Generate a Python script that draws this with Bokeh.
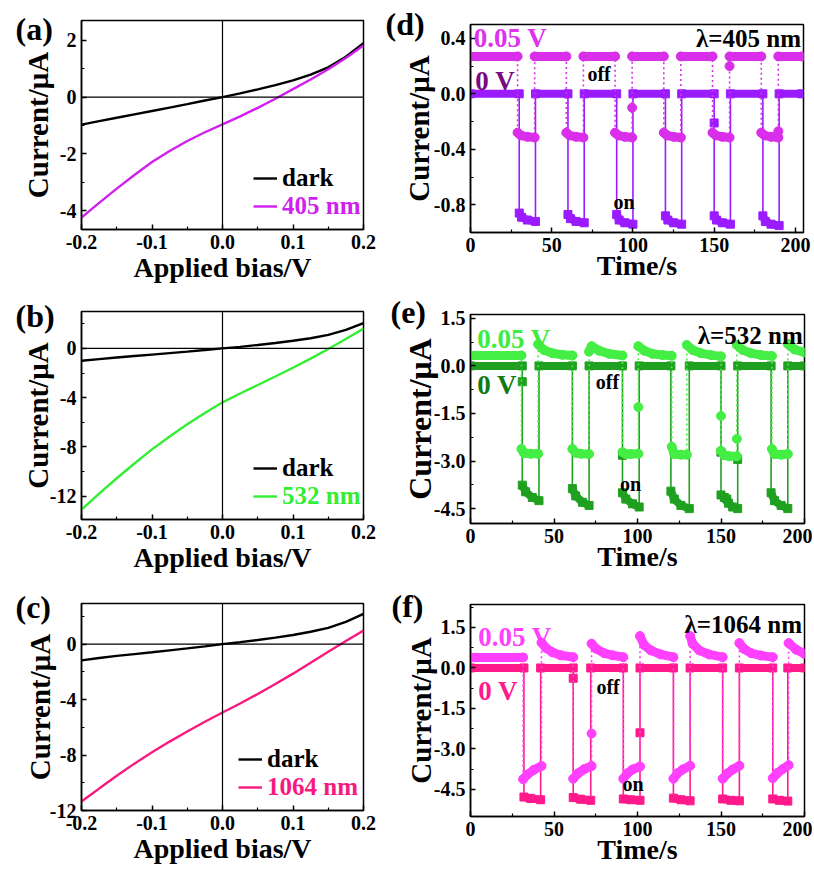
from bokeh.plotting import figure
from bokeh.layouts import row, column
from bokeh.models import Range1d, FixedTicker, Span, Label, Legend, LegendItem, Title
from bokeh.embed import file_html
from bokeh.resources import INLINE

FONT = "Liberation Serif"

# ---------------- I-V data ----------------
bias = [-0.2, -0.175, -0.15, -0.125, -0.1, -0.075, -0.05, -0.025, 0.0,
        0.025, 0.05, 0.075, 0.1, 0.125, 0.15, 0.175, 0.2]
dark_a = [-0.97, -0.85, -0.73, -0.61, -0.49, -0.37, -0.25, -0.12, 0.0,
          0.13, 0.27, 0.42, 0.59, 0.79, 1.05, 1.42, 1.9]
nm405 = [-4.25, -3.73, -3.23, -2.75, -2.29, -1.9, -1.55, -1.24, -0.96,
         -0.68, -0.38, -0.06, 0.28, 0.62, 0.98, 1.38, 1.82]
dark_b = [-1.0, -0.87, -0.74, -0.62, -0.5, -0.38, -0.26, -0.13, 0.0,
          0.13, 0.28, 0.44, 0.62, 0.83, 1.1, 1.5, 2.05]
nm532 = [-13.1, -11.8, -10.55, -9.35, -8.2, -7.15, -6.17, -5.25, -4.38,
         -3.66, -2.97, -2.28, -1.57, -0.83, -0.05, 0.77, 1.61]
dark_c = [-1.17, -1.0, -0.85, -0.72, -0.59, -0.45, -0.31, -0.16, 0.0,
          0.14, 0.3, 0.47, 0.66, 0.89, 1.17, 1.6, 2.18]
nm1064 = [-11.35, -10.42, -9.5, -8.62, -7.8, -7.03, -6.3, -5.6, -4.93,
          -4.28, -3.6, -2.88, -2.13, -1.35, -0.55, 0.22, 0.98]

# ---------------- time-response data ----------------
# (d) 405 nm
d0_t = [0, 30, 30, 31.5, 35, 40, 40, 60, 60, 61.5, 65, 70, 70, 90, 90, 91.5, 95, 100,
        100, 120, 120, 121.5, 125, 130, 130, 150, 150, 150, 151.5, 155, 160, 160, 180,
        180, 181.5, 185, 190, 190, 204]
d0_i = [0, 0, -0.86, -0.89, -0.91, -0.92, 0, 0, -0.87, -0.9, -0.92, -0.93, 0, 0, -0.87,
        -0.91, -0.93, -0.94, 0, 0, -0.88, -0.91, -0.93, -0.94, 0, 0, -0.21, -0.88, -0.91,
        -0.93, -0.94, 0, 0, -0.88, -0.92, -0.94, -0.95, 0, 0]
d5_t = [0, 29, 29, 31, 35, 39.5, 39.5, 59, 59, 61, 65, 69.5, 69.5, 89, 89, 91, 95, 99.5,
        99.5, 99.5, 119, 119, 121, 125, 129.5, 129.5, 149, 149, 151, 155, 159.5, 159.5,
        159.5, 179, 179, 181, 185, 189.5, 189.5, 189.5, 204]
d5_i = [0.27, 0.27, -0.28, -0.3, -0.31, -0.315, 0.27, 0.27, -0.28, -0.3, -0.31, -0.315,
        0.27, 0.27, -0.28, -0.3, -0.31, -0.315, -0.1, 0.27, 0.27, -0.28, -0.3, -0.31,
        -0.315, 0.27, 0.27, -0.28, -0.3, -0.31, -0.315, 0.2, 0.27, 0.27, -0.28, -0.3,
        -0.31, -0.315, -0.27, 0.27, 0.27]
# (e) 532 nm
e0_t = [0, 31, 31, 31, 33, 37, 41, 41, 61, 61, 63, 67, 71, 71, 91, 91, 91, 93, 97, 101,
        101, 120, 120, 122, 126, 131, 131, 150, 150, 150, 152, 153.5, 154.5, 157, 160, 160,
        160, 180, 180, 182, 186, 190, 190, 200]
e0_i = [0, 0, -0.5, -3.76, -3.97, -4.15, -4.25, 0, 0, -3.87, -4.1, -4.3, -4.4, 0, 0,
        -2.82, -4.0, -4.2, -4.35, -4.45, 0, 0, -3.95, -4.2, -4.4, -4.5, 0, 0, -2.72, -4.07,
        -4.15, -4.2, -4.33, -4.45, -4.5, -2.95, 0, 0, -4.0, -4.25, -4.4, -4.5, 0, 0]
e5_t = [0, 30.5, 30.5, 32, 36, 40.5, 40.5, 44, 49, 55, 61, 61, 63, 66, 71, 71, 72.5, 77,
        83, 91, 91, 93, 96, 100.5, 100.5, 100.5, 104, 109, 115, 120.5, 120.5, 122, 126,
        129.5, 129.5, 133, 138, 144, 150, 150, 150, 152, 155, 159.5, 159.5, 159.5, 163,
        168, 174, 180.5, 180.5, 182, 186, 190, 190, 194, 200]
e5_i = [0.33, 0.33, -2.62, -2.75, -2.77, -2.77, 0.68, 0.5, 0.4, 0.35, 0.33, -2.62, -2.74,
        -2.77, -2.78, 0.45, 0.62, 0.48, 0.38, 0.33, -2.72, -2.78, -2.78, -2.77, -1.3,
        0.62, 0.48, 0.38, 0.34, 0.32, -2.55, -2.78, -2.8, -2.8, 0.66, 0.5, 0.4, 0.34,
        0.3, -1.58, -2.68, -2.82, -2.85, -2.85, -2.3, 0.66, 0.5, 0.4, 0.34, 0.31, -2.62,
        -2.78, -2.8, -2.78, 0.69, 0.52, 0.42]
# (f) 1064 nm
f0_t = [0, 32, 32, 36, 42, 42, 61.5, 61.5, 61.5, 66, 72, 72, 91.5, 91.5, 96, 101.5,
        101.5, 101.5, 121.5, 121.5, 126, 131.5, 131.5, 151, 151, 156, 161, 161, 181, 181,
        185, 190, 190, 200]
f0_i = [0, 0, -4.78, -4.83, -4.88, 0, 0, -0.38, -4.8, -4.86, -4.9, 0, 0, -4.85, -4.88,
        -4.9, -2.4, 0, 0, -4.82, -4.88, -4.92, 0, 0, -4.85, -4.9, -4.92, 0, 0, -4.85,
        -4.9, -4.93, 0, 0]
f5_t = [0, 31.5, 31.5, 34, 38, 42.5, 42.5, 45, 49, 54, 61.5, 61.5, 64.5, 68, 72.5, 72.5,
        72.5, 75, 80, 85, 91.5, 91.5, 94, 97, 101.5, 101.5, 104, 108, 114, 121.5, 121.5,
        124, 127, 131.5, 131.5, 133, 137, 143, 151, 151, 154, 157, 161, 161, 164, 168,
        174, 181, 181, 184, 187, 190.5, 190.5, 195, 200]
f5_i = [0.39, 0.39, -4.12, -3.95, -3.77, -3.63, 0.94, 0.75, 0.58, 0.47, 0.4, -4.1, -3.9,
        -3.75, -3.63, -2.43, 0.9, 0.72, 0.55, 0.47, 0.4, -4.1, -3.9, -3.76, -3.65, 1.18,
        0.85, 0.65, 0.5, 0.4, -4.1, -3.9, -3.76, -3.62, 1.18, 0.9, 0.65, 0.5, 0.4, -4.1,
        -3.9, -3.76, -3.62, 0.92, 0.7, 0.55, 0.46, 0.4, -4.08, -3.88, -3.74, -3.6, 0.92,
        0.68, 0.52]

# ---------------- ticks ----------------
iv_xticks = [-0.2, -0.1, 0.0, 0.1, 0.2]
iv_xlabels = ["-0.2", "-0.1", "0.0", "0.1", "0.2"]
iv_xminor = [-0.15, -0.05, 0.05, 0.15]
a_yticks = [-4, -2, 0, 2]
a_ylabels = ["-4", "-2", "0", "2"]
a_yminor = [-3, -1, 1]
bc_yticks = [-12, -8, -4, 0]
bc_ylabels = ["-12", "-8", "-4", "0"]
bc_yminor = [-10, -6, -2, 2]
t_xticks = [0, 50, 100, 150, 200]
t_xlabels = ["0", "50", "100", "150", "200"]
t_xminor = [25, 75, 125, 175]
d_yticks = [-0.8, -0.4, 0.0, 0.4]
d_ylabels = ["-0.8", "-0.4", "0.0", "0.4"]
d_yminor = [-1.0, -0.6, -0.2, 0.2]
ef_yticks = [-4.5, -3.0, -1.5, 0.0, 1.5]
ef_ylabels = ["-4.5", "-3.0", "-1.5", "0.0", "1.5"]
ef_yminor = [-3.75, -2.25, -0.75, 0.75, 2.25]


def make_fig(xr, yr, fw, fh, bl, br, bt, bb, xt, xl, xm, yt, yl, ym, xlabel, ylsize="29px",
             ystand=2, xstand=0):
    p = figure(x_range=Range1d(*xr), y_range=Range1d(*yr), frame_width=fw, frame_height=fh,
               min_border_left=bl, min_border_right=br, min_border_top=bt, min_border_bottom=bb,
               output_backend="svg", toolbar_location=None)
    p.xgrid.visible = False
    p.ygrid.visible = False
    p.outline_line_color = "black"
    p.outline_line_width = 1.5
    p.outline_line_alpha = 1.0
    p.background_fill_color = "white"
    p.border_fill_color = "white"
    p.xaxis.ticker = FixedTicker(ticks=xt, minor_ticks=xm)
    p.yaxis.ticker = FixedTicker(ticks=yt, minor_ticks=ym)
    p.xaxis.major_label_overrides = {k: v for k, v in zip(xt, xl)}
    p.yaxis.major_label_overrides = {k: v for k, v in zip(yt, yl)}
    for ax in (p.xaxis[0], p.yaxis[0]):
        ax.axis_line_width = 1.5
        ax.major_tick_in = 5
        ax.major_tick_out = 0
        ax.minor_tick_in = 3
        ax.minor_tick_out = 0
        ax.major_tick_line_width = 1.5
        ax.minor_tick_line_width = 1.2
        ax.major_label_text_font = FONT
        ax.major_label_text_font_style = "bold"
        ax.major_label_text_font_size = "20px"
        ax.major_label_text_color = "black"
        ax.major_label_standoff = 5
        ax.axis_label_text_font = FONT
        ax.axis_label_text_font_style = "bold"
        ax.axis_label_text_color = "black"
    p.xaxis.axis_label = xlabel
    p.xaxis.axis_label_text_font_size = "28px"
    p.xaxis.axis_label_standoff = xstand
    p.yaxis.axis_label = "Current/\u03bcA"
    p.yaxis.axis_label_text_font_size = ylsize
    p.yaxis.axis_label_standoff = ystand
    return p


def panel_label(p, text, dx, standoff):
    p.add_layout(Title(text=text, align="left", offset=dx, standoff=standoff,
                       vertical_align="bottom", text_font=FONT, text_font_style="bold",
                       text_font_size="32px", text_color="black"), "above")


def add_text(p, x, y, text, color, size, align="left"):
    p.add_layout(Label(x=x, y=y, text=text, text_font=FONT, text_font_style="bold",
                       text_font_size=size, text_color=color, text_baseline="middle",
                       text_align=align))


def add_legend(p, r, label, color, x, y):
    lg = Legend(items=[LegendItem(label=label, renderers=[r])], location=(x, y),
                label_text_font=FONT, label_text_font_style="bold", label_text_font_size="25px",
                label_text_color=color, glyph_width=24, glyph_height=20, label_height=20,
                label_standoff=5, padding=0, margin=0, spacing=0,
                border_line_alpha=0, background_fill_alpha=0)
    p.add_layout(lg)


def iv_panel(yr, bt, fh, bb, yt, yl, ym, dark, light, color, name, letter, lx, lso, ystand):
    p = make_fig((-0.2, 0.2), yr, 282, fh, 81, 20, bt, bb, iv_xticks, iv_xlabels, iv_xminor,
                 yt, yl, ym, "Applied bias/V", ystand=ystand)
    p.add_layout(Span(location=0, dimension="height", line_color="black", line_width=1.2))
    p.add_layout(Span(location=0, dimension="width", line_color="black", line_width=1.2))
    r1 = p.line(bias, dark, line_color="black", line_width=2.4)
    r2 = p.line(bias, light, line_color=color, line_width=2.4)
    add_legend(p, r1, "dark", "black", lx, 37)
    add_legend(p, r2, name, color, lx, 9)
    panel_label(p, letter, -66, lso)
    return p


def draw_series(p, t, i, color, marker, size, dash):
    p.line(t, i, line_color=color, line_width=1.6, line_dash=dash)
    xs, ys = [], []
    cx, cy = [t[0]], [i[0]]
    for k in range(1, len(t)):
        if t[k] == t[k - 1]:
            xs.append(cx)
            ys.append(cy)
            cx, cy = [], []
        cx.append(t[k])
        cy.append(i[k])
    xs.append(cx)
    ys.append(cy)
    cap = "round" if marker == "circle" else "butt"
    p.multi_line(xs, ys, line_color=color, line_width=size, line_cap=cap, line_join="round")
    p.scatter(t, i, marker=marker, size=size, fill_color=color, line_color=color)


def time_panel(xr, yr, bl, fw, br, bt, fh, bb, yt, yl, ym, t0, i0, t5, i5, c0, c5,
               letter, ldx, lso, ylsize, ystand):
    p = make_fig(xr, yr, fw, fh, bl, br, bt, bb, t_xticks, t_xlabels, t_xminor,
                 yt, yl, ym, "Time/s", ylsize=ylsize, ystand=ystand, xstand=-5)
    draw_series(p, t0, i0, c0, "square", 8, "solid")
    draw_series(p, t5, i5, c5, "circle", 9, "2 3")
    panel_label(p, letter, ldx, lso)
    return p


pa = iv_panel((-4.67, 2.7), 20, 209, 63, a_yticks, a_ylabels, a_yminor, dark_a, nm405,
              "#D11FEF", "405 nm", "(a)", 172, -52, 3)
pb = iv_panel((-13.9, 3.0), 19, 208, 66, bc_yticks, bc_ylabels, bc_yminor, dark_b, nm532,
              "#33EE33", "532 nm", "(b)", 172, -44, -7)
pc = iv_panel((-12.0, 2.93), 18, 207, 62, bc_yticks, bc_ylabels, bc_yminor, dark_c, nm1064,
              "#F8197F", "1064 nm", "(c)", 157, -42, -9)

pd = time_panel((0, 205), (-1.0, 0.5), 87, 333, 9, 24, 208, 58, d_yticks, d_ylabels, d_yminor,
                d0_t, d0_i, d5_t, d5_i, "#9B1BFF", "#DA2FEA", "(d)", -85, -34, "29px", -4)
add_text(pd, 2, 0.4, "0.05 V", "#DD33EE", "27px")
add_text(pd, 3, 0.093, "0 V", "#7A0A82", "27px")
add_text(pd, 203.5, 0.4, "\u03bb=405 nm", "black", "25px", align="right")
add_text(pd, 72, 0.14, "off", "black", "20px")
add_text(pd, 88, -0.78, "on", "black", "20px")

pe = time_panel((0, 200), (-4.97, 1.62), 82, 334, 13, 24, 209, 59, ef_yticks, ef_ylabels,
                ef_yminor, e0_t, e0_i, e5_t, e5_i, "#20A020", "#44EE44", "(e)", -80, -30,
                "32px", -7)
add_text(pe, 4, 0.86, "0.05 V", "#3DED3D", "27px")
add_text(pe, 4, -0.61, "0 V", "#137A13", "27px")
add_text(pe, 199, 0.97, "\u03bb=532 nm", "black", "25px", align="right")
add_text(pe, 75, -0.5, "off", "black", "20px")
add_text(pe, 89.5, -3.74, "on", "black", "20px")

pf = time_panel((0, 200), (-5.5, 2.35), 81, 334, 14, 22, 212, 56, ef_yticks, ef_ylabels,
                ef_yminor, f0_t, f0_i, f5_t, f5_i, "#FF1A8C", "#FF40FF", "(f)", -79, -38,
                "29px", -6)
add_text(pf, 4.6, 1.15, "0.05 V", "#FF40FF", "27px")
add_text(pf, 4.6, -0.84, "0 V", "#FF1A8C", "27px")
add_text(pf, 198.5, 1.62, "\u03bb=1064 nm", "black", "25px", align="right")
add_text(pf, 75.4, -0.69, "off", "black", "20px")
add_text(pf, 91, -4.28, "on", "black", "20px")

layout = row(column(pa, pb, pc, spacing=0), column(pd, pe, pf, spacing=0), spacing=0)

open("out.html", "w").write(file_html(layout, INLINE))
